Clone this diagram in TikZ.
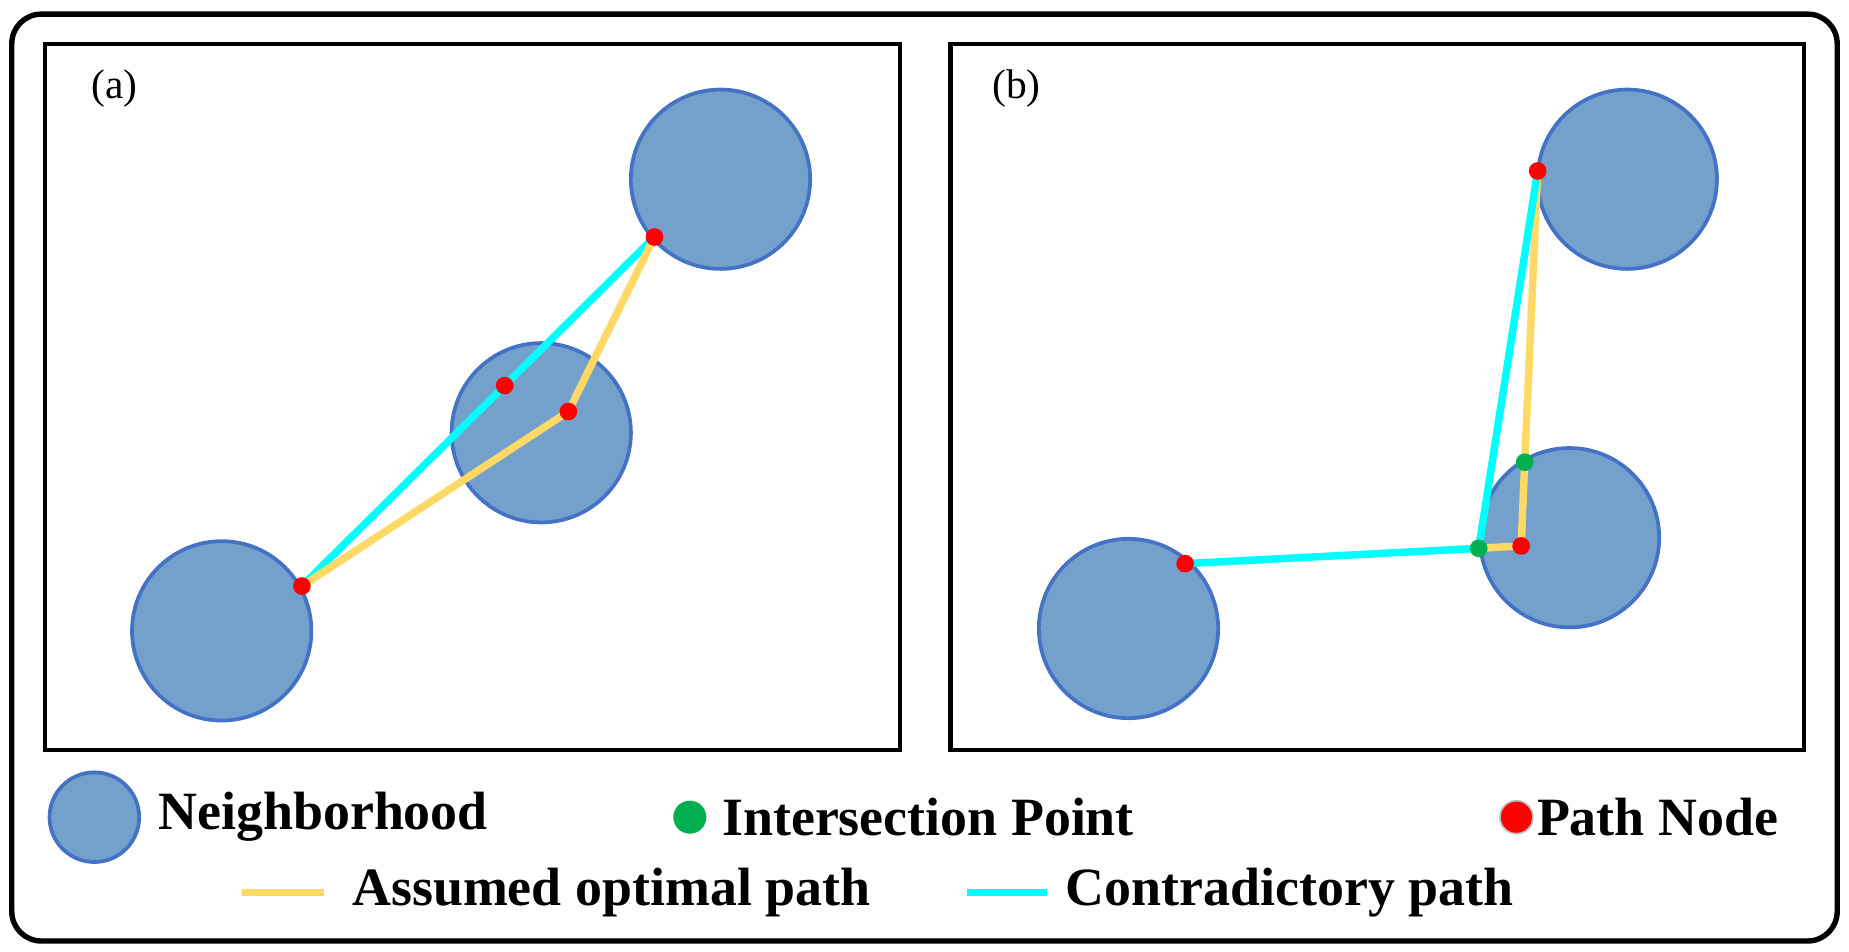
\documentclass[tikz,border=0pt]{standalone}
\usepackage{fontspec}
\setmainfont{Liberation Serif}
\usetikzlibrary{positioning}
\definecolor{hoodfill}{RGB}{116,160,204}
\definecolor{hooddraw}{RGB}{68,114,196}
\definecolor{optcol}{RGB}{255,217,102}
\definecolor{concol}{RGB}{0,255,255}
\definecolor{intcol}{RGB}{0,176,80}
\tikzset{
	hood/.style={circle, draw=hooddraw, fill=hoodfill, line width=0.9pt, minimum size=1.52cm, inner sep=0pt},
	pnode/.style={circle, fill=red, minimum size=0.15cm, inner sep=0pt},
	inode/.style={circle, fill=intcol, minimum size=0.15cm, inner sep=0pt},
	optpath/.style={optcol, line width=1.8pt},
	conpath/.style={concol, line width=1.8pt},
	frame/.style={draw=black, line width=1pt},
	legtext/.style={font=\fontsize{13}{15}\selectfont\bfseries, anchor=west, inner sep=0pt}
}
\begin{document}
\begin{tikzpicture}[x=0.01cm, y=-0.01cm]
	\useasboundingbox (0,0) rectangle (1568,807);
	\draw[line width=1.3pt, rounded corners=0.25cm] (10,12) rectangle (1558,798);
	
	% panel (a)
	\draw[frame] (38,37) rectangle (763,636);
	\node at (97,75) {(a)};
	\node[hood] (ha1) at (188,535) {};
	\node[hood] (ha2) at (459,367) {};
	\node[hood] (ha3) at (611,152) {};
	\coordinate (pa1) at (256,497);
	\coordinate (pa2) at (428,327);
	\coordinate (pa3) at (482,349);
	\coordinate (pa4) at (555,201);
	\draw[conpath] (pa1) -- (pa2) -- (pa4);
	\draw[optpath] (pa1) -- (pa3) -- (pa4);
	\foreach \p in {pa1,pa2,pa3,pa4}
		\node[pnode] at (\p) {};
	
	% panel (b)
	\draw[frame] (806,37) rectangle (1530,636);
	\node at (862,75) {(b)};
	\node[hood] (hb1) at (957,533) {};
	\node[hood] (hb2) at (1331,456) {};
	\node[hood] (hb3) at (1380,152) {};
	\coordinate (pb1) at (1005,478);
	\coordinate (pb2) at (1290,463);
	\coordinate (pb3) at (1304,145);
	\coordinate (ib1) at (1254,465);
	\coordinate (ib2) at (1293,392);
	\draw[optpath] (ib1) -- (pb2) -- (ib2) -- (pb3);
	\draw[conpath] (pb1) -- (ib1) -- (pb3);
	\foreach \p in {pb1,pb2,pb3}
		\node[pnode] at (\p) {};
	\foreach \p in {ib1,ib2}
		\node[inode] at (\p) {};
	
	% legend
	\node[hood, minimum size=0.76cm] (lhood) at (80,693) {};
	\node[legtext, right=0.14cm of lhood] (lhoodt) {Neighborhood};
	\node[inode, minimum size=0.28cm] (lint) at (585,693) {};
	\node[legtext, right=0.12cm of lint] (lintt) {Intersection Point};
	\node[pnode, minimum size=0.28cm, draw=lightgray, line width=0.4pt] (lpn) at (1286,693) {};
	\node[legtext, right=0.02cm of lpn] (lpnt) {Path Node};
	\coordinate (lopta) at (205,757);
	\coordinate (loptb) at (275,757);
	\draw[optpath] (lopta) -- (loptb);
	\node[legtext, right=0.23cm of loptb] (loptt) {Assumed optimal path};
	\coordinate (lcona) at (820,757);
	\coordinate (lconb) at (888,757);
	\draw[conpath] (lcona) -- (lconb);
	\node[legtext, right=0.15cm of lconb] (lcont) {Contradictory path};
\end{tikzpicture}
\end{document}
